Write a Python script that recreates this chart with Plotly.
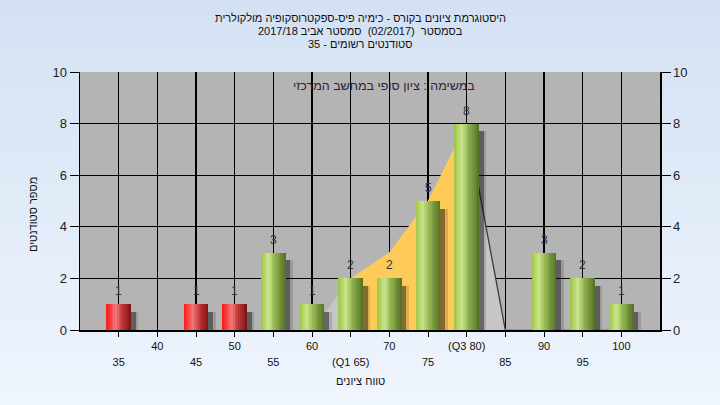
import plotly.graph_objects as go

# ---------------- data ----------------
scores = [35, 40, 45, 50, 55, 60, 65, 70, 75, 80, 85, 90, 95, 100]
counts = [1, 0, 1, 1, 3, 1, 2, 2, 5, 8, 0, 3, 2, 1]
curve_x = [60, 65, 70, 75, 80, 85, 90, 95, 100]
curve_y = [0, 2, 3, 5, 8, 0, 0, 0, 0]
q1, q3 = 65, 80
pass_grade = 55
y_ticks = [0, 2, 4, 6, 8, 10]

RLE, PDF = "\u202b", "\u202c"
title_lines = [
    "היסטוגרמת ציונים בקורס - כימיה פיס-ספקטרוסקופיה מולקולרית",
    "בסמסטר  (02/2017)  סמסטר אביב 2017/18",
    "סטודנטים רשומים - 35",
]
task_label = "במשימה : ציון סופי במחשב המרכזי"
x_title = "טווח ציונים"
y_title = "מספר סטודנטים"

# ---------------- style helpers ----------------
FONT = "Arial, Liberation Sans, DejaVu Sans, sans-serif"
L, R, T, B = 80, 60, 72, 75
W, H = 720, 405
PW, PH = W - L - R, H - T - B
xr = [30, 105]
bar_w = 3.2


def hex2rgb(h):
    h = h.lstrip("#")
    return tuple(int(h[i:i + 2], 16) for i in (0, 2, 4))


def grad(stops, t):
    for (t0, c0), (t1, c1) in zip(stops, stops[1:]):
        if t0 <= t <= t1:
            f = (t - t0) / (t1 - t0) if t1 > t0 else 0
            a, b = hex2rgb(c0), hex2rgb(c1)
            return "rgb(%d,%d,%d)" % tuple(round(a[i] + (b[i] - a[i]) * f) for i in range(3))
    return stops[-1][1]


green_stops = [(0, "#9CC442"), (0.3, "#CCE590"), (0.55, "#93B650"), (1.0, "#526F26")]
red_stops = [(0, "#FF1414"), (0.38, "#EE7878"), (0.65, "#C03434"), (1.0, "#781212")]

bx = [s for s, c in zip(scores, counts) if c > 0]
by = [c for c in counts if c > 0]

fig = go.Figure()

# distribution area (outside Q1-Q3 light gray, inside yellow) on the main axes
fig.add_trace(go.Scatter(x=curve_x, y=curve_y, mode="lines", fill="tozeroy",
                         fillcolor="#C6C6C6", line=dict(width=0), hoverinfo="skip"))
yx = [x for x in curve_x if q1 <= x <= q3]
yy = [y for x, y in zip(curve_x, curve_y) if q1 <= x <= q3]
fig.add_trace(go.Scatter(x=yx, y=yy, mode="lines", fill="tozeroy",
                         fillcolor="#FFCB58", line=dict(width=0), hoverinfo="skip"))
# falling edge after Q3 (dark) and the flat tail (light gray)
i_q3 = curve_x.index(q3)
i_zero = next(i for i in range(i_q3, len(curve_y)) if curve_y[i] == 0)
fig.add_trace(go.Scatter(x=curve_x[i_q3:i_zero + 1], y=curve_y[i_q3:i_zero + 1], mode="lines",
                         line=dict(color="#3A3A3A", width=1.3), hoverinfo="skip"))
fig.add_trace(go.Scatter(x=curve_x[i_zero:], y=curve_y[i_zero:], mode="lines",
                         line=dict(color="#8C8C8C", width=1.3), hoverinfo="skip"))

# bar shadows (overlaying axes, drawn above the areas)
for ext, col in [(0.95, "rgba(10,10,10,0.14)"), (0.6, "rgba(10,10,10,0.42)")]:
    fig.add_trace(go.Bar(x=bx, y=by, base=[-0.3] * len(bx),
                         width=ext + 0.3, offset=bar_w / 2 - 0.3,
                         marker=dict(color=col, line=dict(width=0)),
                         xaxis="x2", yaxis="y2", cliponaxis=False, hoverinfo="skip"))

# cylinder-like bars built from vertical strips
N = 14
sw = bar_w / N
for i in range(N):
    t = (i + 0.5) / N
    cols = [grad(red_stops if s < pass_grade else green_stops, t) for s in bx]
    fig.add_trace(go.Bar(x=bx, y=by, width=sw * (1.25 if i < N - 1 else 1.0),
                         offset=-bar_w / 2 + i * sw, xaxis="x2", yaxis="y2",
                         marker=dict(color=cols, line=dict(width=0)), hoverinfo="skip"))

row1 = [s for i, s in enumerate(scores) if i % 2 == 1]
row2 = [s for i, s in enumerate(scores) if i % 2 == 0]


def lab(s):
    if s == q1:
        return "(Q1 %d)" % s
    if s == q3:
        return "(Q3 %d)" % s
    return str(s)


# background gradient + plot area rectangle
shapes = []
nb = 24
x0p, x1p = -L / PW, 1 + R / PW
ytop, ybot = 1 + T / PH, -B / PH
for k in range(nb):
    ya = ytop - (ytop - ybot) * k / nb
    yb = ytop - (ytop - ybot) * (k + 1) / nb
    c = grad([(0, "#D3E1F3"), (1, "#EFF5FD")], (k + 0.5) / nb)
    shapes.append(dict(type="rect", xref="paper", yref="paper", x0=x0p, x1=x1p,
                       y0=yb, y1=ya + 0.002, fillcolor=c, line=dict(width=0), layer="below"))
shapes.append(dict(type="rect", xref="paper", yref="paper", x0=0, x1=1, y0=0, y1=1,
                   fillcolor="#B4B4B4", line=dict(width=0), layer="below"))

annotations = []
# bar value labels
for s, v in zip(bx, by):
    annotations.append(dict(text=str(v), x=s, y=v, xref="x2", yref="y2", showarrow=False,
                            yanchor="bottom", yshift=4,
                            font=dict(family=FONT, size=12, color="#2E3440")))
for line, ypx in zip(title_lines, [18, 31, 44]):
    annotations.append(dict(text=RLE + line + PDF, xref="paper", yref="paper",
                            x=(360 - L) / PW, y=(H - B - ypx) / PH, showarrow=False,
                            xanchor="center", yanchor="middle",
                            font=dict(family=FONT, size=11, color="#111111")))
annotations.append(dict(text=RLE + task_label + PDF, xref="paper", yref="paper",
                        x=(384 - L) / PW, y=(H - B - 86) / PH, showarrow=False,
                        xanchor="center", yanchor="middle",
                        font=dict(family=FONT, size=12.5, color="#2A2438")))
annotations.append(dict(text=x_title, xref="paper", yref="paper",
                        x=(360 - L) / PW, y=(H - B - 381) / PH, showarrow=False,
                        xanchor="center", yanchor="middle",
                        font=dict(family=FONT, size=11, color="#111111")))
annotations.append(dict(text=y_title, xref="paper", yref="paper",
                        x=(33 - L) / PW, y=(H - B - 215) / PH, showarrow=False,
                        textangle=-90, xanchor="center", yanchor="middle",
                        font=dict(family=FONT, size=11, color="#111111")))

fig.update_layout(
    width=W, height=H, margin=dict(l=L, r=R, t=T, b=B),
    paper_bgcolor="#E2ECF8", plot_bgcolor="rgba(0,0,0,0)",
    barmode="overlay", showlegend=False, bargap=0, hovermode=False,
    shapes=shapes, annotations=annotations,
    xaxis=dict(range=xr, tickvals=scores, ticktext=[lab(s) if s in row1 else "" for s in scores],
               showgrid=True, gridcolor="#000000", gridwidth=1.2, zeroline=False,
               showline=True, linecolor="#000000", linewidth=1.5,
               ticks="outside", ticklen=5, tickcolor="#000000",
               tickfont=dict(family=FONT, size=11, color="#111111"), fixedrange=True),
    xaxis2=dict(range=xr, overlaying="x", anchor="y2", side="bottom",
                tickvals=row2, ticktext=[lab(s) for s in row2], ticks="",
                ticklabelstandoff=24, showgrid=False, zeroline=False, showline=False,
                tickfont=dict(family=FONT, size=11, color="#111111")),
    yaxis=dict(range=[0, 10], tickvals=y_ticks, showgrid=True, gridcolor="#000000",
               gridwidth=1.2, zeroline=False, showline=True, linecolor="#000000",
               linewidth=1.5, ticks="outside", ticklen=9, tickcolor="#000000",
               tickfont=dict(family=FONT, size=13, color="#222222")),
    yaxis2=dict(range=[0, 10], tickvals=y_ticks, overlaying="y", side="right",
                showgrid=False, zeroline=False, showline=True, linecolor="#000000",
                linewidth=1.5, ticks="outside", ticklen=9, tickcolor="#000000",
                tickfont=dict(family=FONT, size=13, color="#222222")),
)

fig.write_html("out.html", config={"displayModeBar": False, "staticPlot": True},
               post_script="document.body.style.margin='0px';"
                           "document.body.style.background='#E2ECF8';")
